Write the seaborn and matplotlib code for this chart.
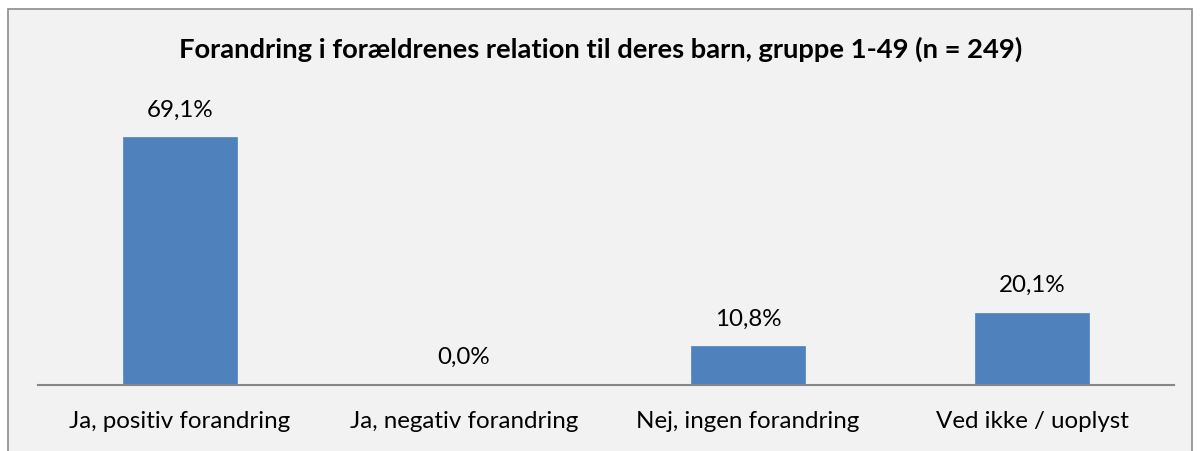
import matplotlib
matplotlib.use("Agg")
import matplotlib.pyplot as plt
import seaborn as sns
import pandas as pd
from matplotlib.patches import Rectangle

categories = ["Ja, positiv forandring", "Ja, negativ forandring", "Nej, ingen forandring", "Ved ikke / uoplyst"]
values = [69.1, 0.0, 10.8, 20.1]
labels = ["69,1%", "0,0%", "10,8%", "20,1%"]
title = "Forandring i forældrenes relation til deres barn, gruppe 1-49 (n = 249)"

sns.set_theme(style="white")
plt.rcParams['font.family'] = ['Lato', 'DejaVu Sans']

bg = "#F2F2F2"
fig = plt.figure(figsize=(12.01, 4.51), dpi=100, facecolor="white")
rect = Rectangle((8/1201, -0.1), (1192-8)/1201, 1.1 - 9/451,
                 transform=fig.transFigure, facecolor=bg,
                 edgecolor="#8C8C8C", linewidth=1.2, zorder=-10)
fig.add_artist(rect)
ax = fig.add_axes([38/1201, (451-385)/451, (1174-38)/1201, (385-98)/451])
ax.set_zorder(1)
ax.patch.set_alpha(0)

df = pd.DataFrame({"cat": categories, "val": values})
sns.barplot(data=df, x="cat", y="val", color="#4F81BD", width=0.4, ax=ax,
            saturation=1, edgecolor="#4F81BD", linewidth=0.5)

ax.set_ylim(0, 80)
ax.set_xlim(-0.5, 3.5)
ax.set_yticks([])
ax.set_xlabel("")
ax.set_ylabel("")
for s in ["top", "right", "left"]:
    ax.spines[s].set_visible(False)
ax.spines["bottom"].set_color("#868686")
ax.spines["bottom"].set_linewidth(1.5)
ax.tick_params(axis="x", length=0, pad=19, labelsize=17.4, labelcolor="black")

for i, (v, l) in enumerate(zip(values, labels)):
    ax.annotate(l, (i, v), xytext=(0, 12), textcoords="offset points",
                ha="center", va="bottom", fontsize=17.4, color="black")

fig.text(0.5, 1 - 49/451, title, ha="center", va="center",
         fontsize=19.7, fontweight="bold", color="black")

fig.savefig("out.png", dpi=100, facecolor="white")
